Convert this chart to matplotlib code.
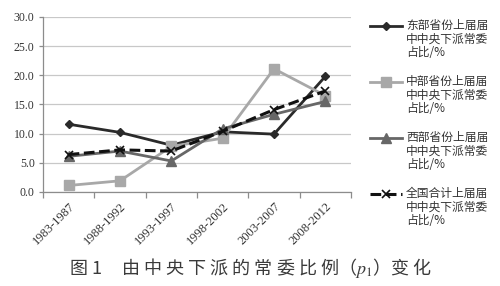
import matplotlib as mp
mp.use("Agg")
import matplotlib.pyplot as plot

# data
periods = ["1983-1987", "1988-1992", "1993-1997", "1998-2002", "2003-2007", "2008-2012"]
east = [11.6, 10.2, 8.0, 10.3, 9.9, 19.8]
middle = [1.1, 1.9, 7.8, 9.2, 21.1, 16.5]
west = [6.1, 7.0, 5.3, 10.8, 13.3, 15.5]
nation = [6.4, 7.2, 7.0, 10.4, 14.1, 17.3]
series_labels = [
    "东部省份上届届\n中中央下派常委\n占比/%",
    "中部省份上届届\n中中央下派常委\n占比/%",
    "西部省份上届届\n中中央下派常委\n占比/%",
    "全国合计上届届\n中中央下派常委\n占比/%",
]
yticks = [0, 5, 10, 15, 20, 25, 30]
caption = "图 1     由 中 央 下 派 的 常 委 比 例（$p_1$）变 化"

cjk = ["Noto Sans CJK SC", "DejaVu Sans"]
serif = "Liberation Serif"
axes_color = "#8c8c8c"
text_color = "#333333"

mp.rcParams["mathtext.fontset"] = "stix"

styles = [
    dict(color="#2a2a2a", marker="D", markersize=4.5, linestyle="-", linewidth=2.0),
    dict(color="#a8a8a8", marker="s", markersize=7, linestyle="-", linewidth=2.0),
    dict(color="#676767", marker="^", markersize=7, linestyle="-", linewidth=2.0),
    dict(color="#111111", marker="x", markersize=6, markeredgewidth=1.2,
         linestyle="--", linewidth=2.2, dashes=(3.5, 1.5)),
]

fig = plot.figure(figsize=(5.0, 2.86), dpi=100)
ax = fig.add_axes([0.086, 0.329, 0.616, 0.612])

x = list(range(len(periods)))
for vals, st in zip([east, middle, west, nation], styles):
    ax.plot(x, vals, zorder=3, **st)

ax.set_xlim(-0.5, len(periods) - 0.5)
ax.set_ylim(0, 30)
ax.set_yticks(yticks)
ax.set_yticklabels(["%.1f" % v for v in yticks], fontfamily=serif, fontsize=8.5, color=text_color)
ax.yaxis.grid(True, color="#c8c8c8", linewidth=0.9)
ax.set_axisbelow(True)

ax.set_xticks(x)
ax.set_xticklabels(periods, rotation=45, ha="right", rotation_mode="anchor",
                   fontfamily=serif, fontsize=9, color=text_color)
ax.set_xticks([i - 0.5 for i in range(len(periods) + 1)], minor=True)
ax.tick_params(axis="x", which="major", length=0, pad=6)
ax.tick_params(axis="x", which="minor", length=4, color=axes_color, width=0.9)
ax.tick_params(axis="y", length=3, color=axes_color, width=0.9, pad=3)

for s in ["top", "right"]:
    ax.spines[s].set_visible(False)
ax.spines["left"].set_color(axes_color)
ax.spines["bottom"].set_color(axes_color)
ax.spines["left"].set_linewidth(0.9)
ax.spines["bottom"].set_linewidth(0.9)

# legend drawn by hand so the handle sits on the first text line
lax = fig.add_axes([0, 0, 1, 1])
lax.set_xlim(0, 500)
lax.set_ylim(286, 0)
lax.axis("off")
for i, (lab, st) in enumerate(zip(series_labels, styles)):
    y0 = 26 + i * 56
    lax.plot([370, 386, 402], [y0, y0, y0], markevery=[1], **st)
    lax.text(406, y0 - 7, lab, fontfamily=cjk, fontsize=8.5, color=text_color,
             va="top", ha="left", linespacing=1.05)

fig.text(0.502, 0.062, caption, fontfamily="Noto Sans CJK SC", fontsize=13,
         color="#3a3a3a", ha="center", va="center")

plot.savefig("out.png", dpi=100)
